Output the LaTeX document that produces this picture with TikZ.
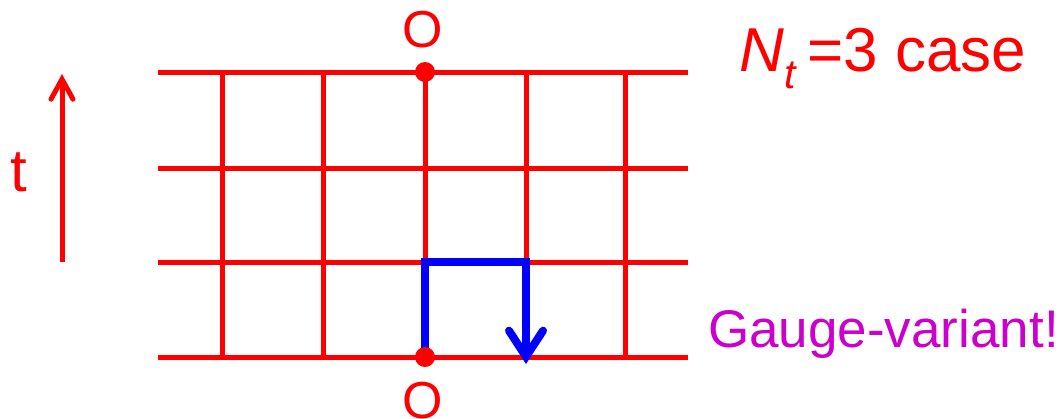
\documentclass[tikz,border=0pt]{standalone}
\usepackage{fontspec}
\setmainfont{Liberation Sans}
\usetikzlibrary{arrows.meta}
\definecolor{lred}{RGB}{255,0,0}
\definecolor{lblue}{RGB}{0,0,255}
\definecolor{lmag}{RGB}{204,0,204}
\tikzset{
  gridline/.style={draw=lred, line width=5pt},
  site/.style={circle, fill=lred, inner sep=0pt, minimum size=20pt},
  lbl/.style={text=lred, inner sep=0pt, font=\fontsize{52}{60}\selectfont},
  link/.style={draw=lblue, line width=8pt, line join=miter,
    -{Straight Barb[length=26pt, width=34pt, line cap=round]}},
  tarrow/.style={draw=lred, line width=5pt,
    -{Straight Barb[length=20pt, width=22pt, line cap=round]}}
}
\begin{document}
\begin{tikzpicture}[x=1pt, y=-1pt]
\useasboundingbox (0,0) rectangle (1062,418);
% lattice
\foreach \y [count=\i] in {72,168,262,357} {
  \coordinate (L\i) at (158,\y);
  \coordinate (R\i) at (688,\y);
  \draw[gridline] (L\i) -- (R\i);
}
\foreach \x [count=\j] in {222,323,425,526,625} {
  \coordinate (T\j) at (\x,72);
  \coordinate (B\j) at (\x,357);
  \draw[gridline] (T\j) -- (B\j);
}
% blue link path
\coordinate (c1) at (425,262);
\coordinate (c2) at (526,262);
\coordinate (c3) at (526,364);
\draw[link] (B3) -- (c1) -- (c2) -- (c3);
% sites
\node[site] (top) at (T3) {};
\node[site] (bot) at (B3) {};
\node[lbl, anchor=base] (Otop) at (423,47) {O};
\node[lbl, anchor=base] (Obot) at (423,418) {O};
% time arrow
\coordinate (ta) at (62,262);
\coordinate (tb) at (62,74);
\draw[tarrow] (ta) -- (tb);
\node[text=lred, inner sep=0pt, anchor=base, font=\fontsize{60}{66}\selectfont] (t) at (19,191) {t};
% labels
\node[text=lred, inner sep=0pt, anchor=base west, font=\fontsize{62}{70}\selectfont] (nt) at (739,71) {\textit{N}\raisebox{-0.28em}{\fontsize{41}{46}\selectfont\textit{t}}\,=3 case};
\node[text=lmag, inner sep=0pt, anchor=base west, font=\fontsize{53}{60}\selectfont] (gv) at (708,347) {Gauge-variant!};
\end{tikzpicture}
\end{document}
